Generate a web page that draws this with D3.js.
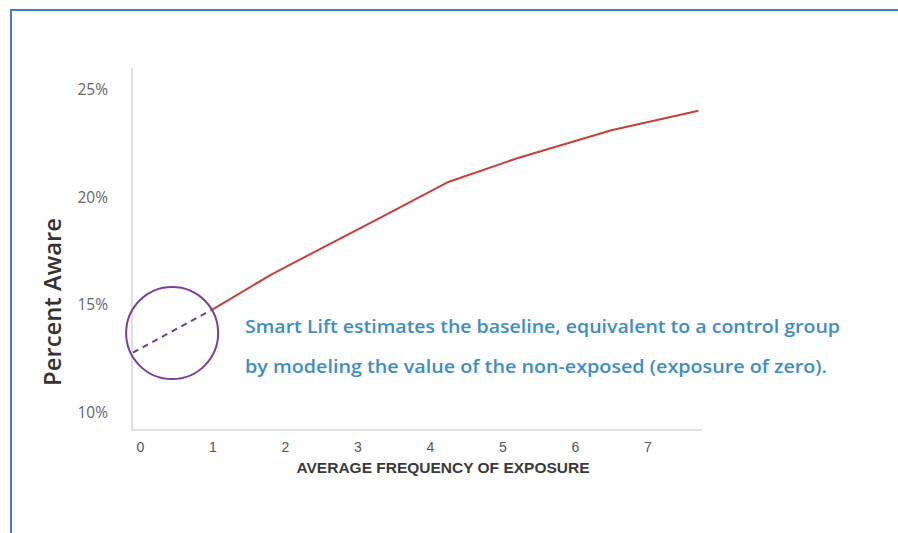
<!DOCTYPE html>
<html>
<head>
<meta charset="utf-8">
<script src="https://cdn.jsdelivr.net/npm/d3@7/dist/d3.min.js"></script>
<style>
  html, body { margin: 0; padding: 0; background: #fff; }
  svg { display: block; }
</style>
</head>
<body>
<svg id="chart" width="898" height="533"></svg>
<script>
// Awareness by average exposure frequency
const xTicks = [0, 1, 2, 3, 4, 5, 6, 7];
const yTicks = [10, 15, 20, 25];
// Modelled baseline (non-exposed) segment
const baselineX = [0, 1.1];
const baselineY = [12.8, 14.8];
// Observed awareness curve
const observedX = [1.1, 1.9, 2.3, 3.5, 4.35, 5.3, 6.6, 7.8];
const observedY = [14.8, 16.4, 17.1, 19.2, 20.7, 21.8, 23.1, 24.0];
// Highlight ring around the zero-exposure estimate
const ringCenter = [0.54, 13.7];
const noteLines = [
  "Smart Lift estimates the baseline, equivalent to a control group",
  "by modeling the value of the non-exposed (exposure of zero)."
];

const svg = d3.select("#chart");

// outer frame
svg.append("rect")
  .attr("x", 11).attr("y", 10)
  .attr("width", 898).attr("height", 540)
  .attr("fill", "none")
  .attr("stroke", "#3d7fc9")
  .attr("stroke-width", 2);

const x = d3.scaleLinear().domain([0, 7.85]).range([133, 702]);
const y = d3.scaleLinear().domain([9.21, 25.98]).range([430, 68]);

// axis lines
svg.append("line")
  .attr("x1", 132).attr("x2", 132)
  .attr("y1", y.range()[1]).attr("y2", y.range()[0])
  .attr("stroke", "#d4d4d4").attr("stroke-width", 1.5);
svg.append("line")
  .attr("x1", 132).attr("x2", x.range()[1])
  .attr("y1", 430).attr("y2", 430)
  .attr("stroke", "#d4d4d4").attr("stroke-width", 1.5);

// y tick labels
const yAxis = d3.axisLeft(y).tickValues(yTicks).tickSize(0).tickPadding(0)
  .tickFormat(d => d + "%");
const gy = svg.append("g").attr("transform", "translate(108,0)").call(yAxis);
gy.select(".domain").remove();
gy.selectAll("text")
  .attr("font-family", "'Open Sans', Lato, sans-serif")
  .attr("font-size", 15.5)
  .attr("fill", "#666");

// x tick labels
const xAxis = d3.axisBottom(x).tickValues(xTicks).tickSize(0).tickPadding(0)
  .tickFormat(d3.format("d"));
const gx = svg.append("g").attr("transform", "translate(7,442)").call(xAxis);
gx.select(".domain").remove();
gx.selectAll("text")
  .attr("font-family", "'Liberation Sans', Arial, sans-serif")
  .attr("font-size", 14)
  .attr("fill", "#555");

// axis titles
svg.append("text")
  .attr("x", 443).attr("y", 473)
  .attr("text-anchor", "middle")
  .attr("font-family", "'Liberation Sans', Arial, sans-serif")
  .attr("font-weight", "bold")
  .attr("font-size", 15)
  .attr("textLength", 293)
  .attr("lengthAdjust", "spacingAndGlyphs")
  .attr("fill", "#3a3a3a")
  .text("AVERAGE FREQUENCY OF EXPOSURE");

svg.append("text")
  .attr("transform", "translate(61,302) rotate(-90)")
  .attr("text-anchor", "middle")
  .attr("font-family", "'Open Sans', Lato, sans-serif")
  .attr("font-weight", 600)
  .attr("font-size", 23)
  .attr("textLength", 168)
  .attr("lengthAdjust", "spacingAndGlyphs")
  .attr("fill", "#333")
  .text("Percent Aware");

const line = d3.line().x(d => x(d[0])).y(d => y(d[1]));

svg.append("path")
  .datum(d3.zip(observedX, observedY))
  .attr("d", line)
  .attr("fill", "none")
  .attr("stroke", "#c4403a")
  .attr("stroke-width", 2);

svg.append("path")
  .datum(d3.zip(baselineX, baselineY))
  .attr("d", line)
  .attr("fill", "none")
  .attr("stroke", "#6a3d8f")
  .attr("stroke-width", 2)
  .attr("stroke-dasharray", "6,5");

svg.append("circle")
  .attr("cx", x(ringCenter[0])).attr("cy", y(ringCenter[1]))
  .attr("r", 46)
  .attr("fill", "none")
  .attr("stroke", "#7a3f98")
  .attr("stroke-width", 2);

// annotation
const noteWidths = [595, 582];
svg.append("g").selectAll("text")
  .data(noteLines)
  .join("text")
  .attr("x", 245)
  .attr("y", (d, i) => 333 + i * 40)
  .attr("font-family", "'Open Sans', Lato, sans-serif")
  .attr("font-weight", 600)
  .attr("font-size", 17.5)
  .attr("textLength", (d, i) => noteWidths[i])
  .attr("lengthAdjust", "spacingAndGlyphs")
  .attr("fill", "#3b8fc1")
  .text(d => d);
</script>
</body>
</html>
